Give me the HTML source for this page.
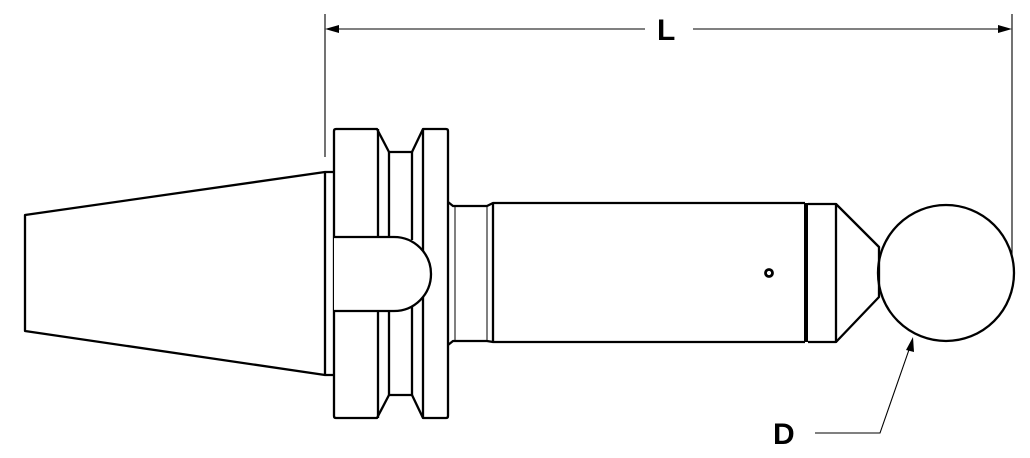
<!DOCTYPE html>
<html><head><style>body{margin:0;background:#fff}svg{display:block}</style></head><body>
<svg width="1030" height="458" viewBox="0 0 1030 458" xmlns="http://www.w3.org/2000/svg">
<g fill="none" stroke="#000" stroke-width="2.3" stroke-linejoin="round">
<path d="M334,172 L325,172 L25,215 L25,331 L325,375 L334,375"/>
<line x1="325" y1="172" x2="325" y2="375"/>
<path d="M334,131 Q334,129 336,129 L377,129 L389,152 L412,152 L423,129 L446,129 Q448,129 448,131 L448,416 Q448,418 446,418 L423,418 L412,395 L389,395 L377,418 L336,418 Q334,418 334,416 Z"/>
<line x1="378" y1="129" x2="378" y2="237"/><line x1="389" y1="152" x2="389" y2="237"/>
<line x1="412" y1="152" x2="412" y2="240"/><line x1="423" y1="129" x2="423" y2="418"/>
<line x1="378" y1="311" x2="378" y2="418"/><line x1="389" y1="311" x2="389" y2="395"/>
<line x1="412" y1="306" x2="412" y2="395"/>
<path d="M334,237 L394,237 A37,37 0 0 1 394,311 L334,311" fill="#fff"/>
<path d="M448,202 L453,206 L487,206 L493,203 L805,203 M448,345 L453,341 L487,341 L493,342 L805,342"/>
<line x1="493" y1="203" x2="493" y2="342"/>
<line x1="455" y1="206" x2="455" y2="341" stroke-width="1"/>
<line x1="487" y1="206" x2="487" y2="341" stroke-width="1"/>
<rect x="804" y="203" width="4" height="139" fill="#000" stroke="none"/>
<path d="M808,204 L836,204 L836,342 L808,342"/>
<path d="M836,204 L879,247 L879,297 L836,342"/>
<circle cx="946" cy="273" r="68"/>
<circle cx="769" cy="273" r="3.5" stroke-width="2.8"/>
</g>
<g stroke="#000" stroke-width="1.1" fill="none">
<line x1="325" y1="14" x2="325" y2="157"/>
<line x1="1012" y1="14" x2="1012" y2="257"/>
<line x1="328" y1="29" x2="645" y2="29"/>
<line x1="693" y1="29" x2="1009" y2="29"/>
<polyline points="815,433 880,433 911,344"/>
</g>
<g fill="#000">
<polygon points="325,29 339,25 339,33"/>
<polygon points="1012,29 998,25 998,33"/>
<polygon points="913,337 906,350 914,352"/>
</g>
<g font-family="Liberation Sans, sans-serif" font-weight="bold" font-size="30" fill="#000">
<text x="657" y="40">L</text>
<text x="773" y="444">D</text>
</g>
</svg>
</body></html>
